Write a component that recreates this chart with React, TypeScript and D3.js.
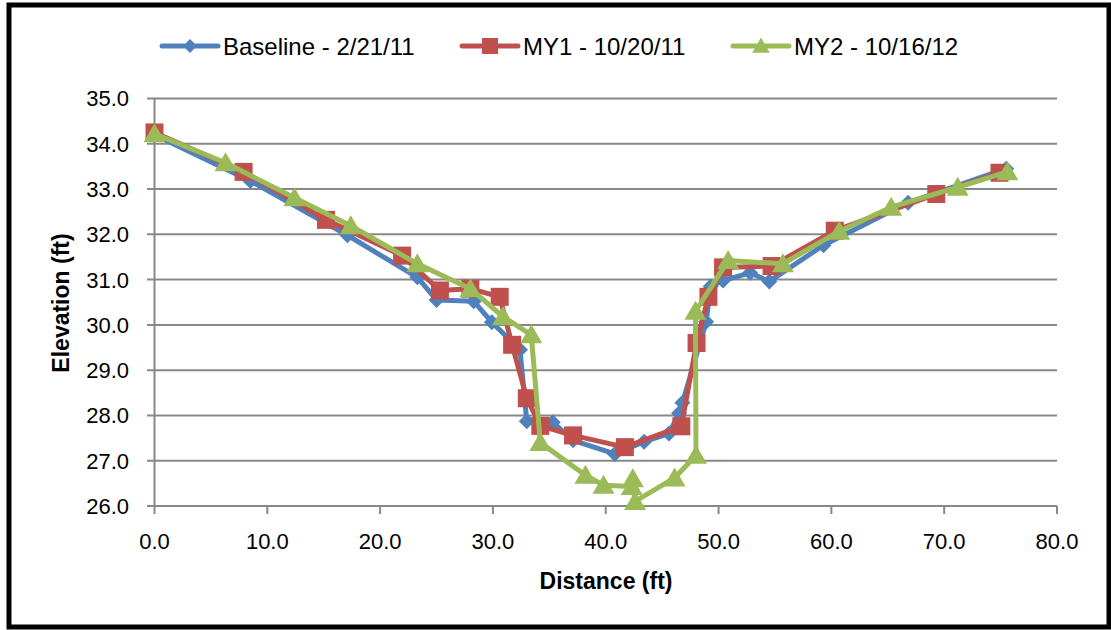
import React from "react";
import * as d3 from "d3";

const baselineX = [0, 8.5, 17.1, 23.3, 25.0, 28.3, 29.9, 32.4, 33.0, 35.3, 37.1, 40.8, 43.4, 45.6, 46.5, 46.8, 48.9, 49.3, 50.4, 52.8, 54.5, 59.3, 66.8, 75.5];
const baselineY = [34.2, 33.18, 31.98, 31.05, 30.55, 30.52, 30.06, 29.45, 27.87, 27.85, 27.45, 27.15, 27.42, 27.6, 28.05, 28.28, 30.07, 30.85, 30.98, 31.15, 30.96, 31.76, 32.7, 33.45];

const my1X = [0, 7.9, 15.2, 21.95, 25.3, 28.0, 30.6, 31.7, 33.0, 34.2, 37.1, 41.7, 46.7, 48.05, 49.1, 50.4, 54.7, 60.3, 69.3, 74.9];
const my1Y = [34.25, 33.38, 32.32, 31.53, 30.76, 30.8, 30.62, 29.56, 28.38, 27.77, 27.56, 27.3, 27.76, 29.6, 30.62, 31.27, 31.3, 32.08, 32.89, 33.36];

const my2X = [0, 6.3, 12.4, 17.4, 23.3, 28.0, 30.9, 33.4, 34.2, 38.2, 39.8, 42.3, 42.4, 42.6, 46.1, 48.0, 47.95, 50.85, 55.7, 60.7, 65.3, 71.2, 75.6];
const my2Y = [34.22, 33.58, 32.81, 32.19, 31.35, 30.8, 30.18, 29.78, 27.4, 26.68, 26.46, 26.43, 26.6, 26.1, 26.62, 27.12, 30.3, 31.42, 31.35, 32.07, 32.6, 33.04, 33.38];

const seriesNames = ["Baseline - 2/21/11", "MY1 - 10/20/11", "MY2 - 10/16/12"];
const seriesColors = ["#4F81BD", "#C0504D", "#9BBB59"];
const xTicks = [0, 10, 20, 30, 40, 50, 60, 70, 80];
const yTicks = [26, 27, 28, 29, 30, 31, 32, 33, 34, 35];

const W = 1111;
const H = 630;
const FONT = "'Liberation Sans', Arial, sans-serif";

function marker(kind: number, x: number, y: number, color: string, s: number, key?: string) {
  if (kind === 0) {
    const r = s * 0.5;
    return <path key={key} d={`M${x},${y - r}L${x + r},${y}L${x},${y + r}L${x - r},${y}Z`} fill={color} />;
  }
  if (kind === 1) {
    const h = s * 0.5;
    return <rect key={key} x={x - h} y={y - h} width={s} height={s} fill={color} />;
  }
  const h = s * 0.5;
  return <path key={key} d={`M${x},${y - h * 1.05}L${x + h * 1.1},${y + h * 0.85}L${x - h * 1.1},${y + h * 0.85}Z`} fill={color} />;
}

export default function App() {
  const x = d3.scaleLinear().domain([0, 80]).range([154.5, 1057]);
  const y = d3.scaleLinear().domain([26, 35]).range([506, 98.5]);
  const data = [
    baselineX.map((v, i) => [v, baselineY[i]]),
    my1X.map((v, i) => [v, my1Y[i]]),
    my2X.map((v, i) => [v, my2Y[i]]),
  ];
  const line = d3.line<number[]>().x((d) => x(d[0])).y((d) => y(d[1]));
  const markerSizes = [16, 18, 20];
  const legendX = [162, 462, 733];

  return (
    <svg width={W} height={H} style={{ position: "absolute", left: 0, top: 0, background: "#fff" }}>
      <rect x={0} y={0} width={W} height={H} fill="#fff" />
      <rect x={9} y={5} width={1100} height={622} fill="none" stroke="#000" strokeWidth={5} />
      {/* gridlines */}
      {yTicks.map((t) => (
        <line key={"g" + t} x1={147} x2={x(80)} y1={y(t)} y2={y(t)} stroke="#888" strokeWidth={2} />
      ))}
      {/* y axis */}
      <line x1={x(0)} x2={x(0)} y1={y(35)} y2={y(26)} stroke="#888" strokeWidth={2} />
      {/* x ticks */}
      {xTicks.map((t) => (
        <line key={"xt" + t} x1={x(t)} x2={x(t)} y1={y(26)} y2={y(26) + 8} stroke="#888" strokeWidth={2} />
      ))}
      {yTicks.map((t) => (
        <text key={"yl" + t} x={129} y={y(t)} dy="0.36em" textAnchor="end" fontFamily={FONT} fontSize={22} fill="#000">
          {t.toFixed(1)}
        </text>
      ))}
      {xTicks.map((t) => (
        <text key={"xl" + t} x={x(t)} y={549} textAnchor="middle" fontFamily={FONT} fontSize={22} fill="#000">
          {t.toFixed(1)}
        </text>
      ))}
      <text x={606} y={589} textAnchor="middle" fontFamily={FONT} fontSize={23} fontWeight="bold">
        Distance (ft)
      </text>
      <text transform="translate(69,303) rotate(-90)" textAnchor="middle" fontFamily={FONT} fontSize={23} fontWeight="bold">
        Elevation (ft)
      </text>
      {/* series */}
      {data.map((d, i) => (
        <g key={"s" + i}>
          <path d={line(d) || ""} fill="none" stroke={seriesColors[i]} strokeWidth={5} strokeLinejoin="round" />
          {d.map((p, j) => marker(i, x(p[0]), y(p[1]), seriesColors[i], markerSizes[i], "m" + i + "-" + j))}
        </g>
      ))}
      {/* legend */}
      {seriesNames.map((n, i) => (
        <g key={"l" + i}>
          <line x1={legendX[i]} x2={legendX[i] + 56} y1={46} y2={46} stroke={seriesColors[i]} strokeWidth={5} strokeLinecap="round" />
          {marker(i, legendX[i] + 28, 46, seriesColors[i], [14, 16, 16][i])}
          <text x={legendX[i] + 61} y={46} dy="0.36em" fontFamily={FONT} fontSize={24} fill="#000">
            {n}
          </text>
        </g>
      ))}
    </svg>
  );
}
